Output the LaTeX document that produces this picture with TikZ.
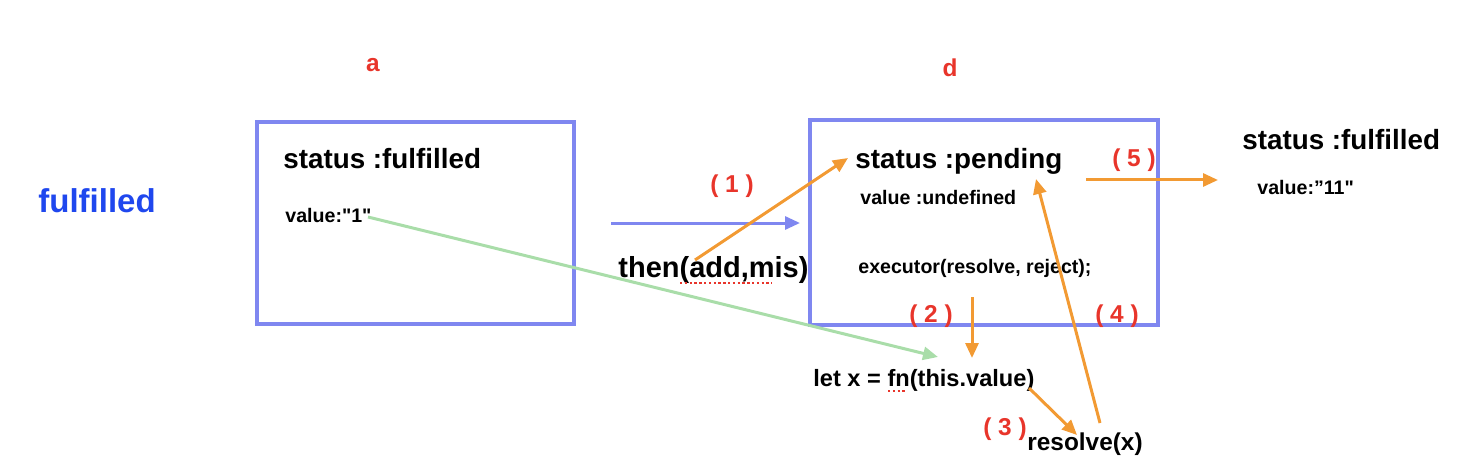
\documentclass[tikz,border=0pt]{standalone}
\usepackage{fontspec}
\setmainfont{Liberation Sans}[Ligatures=TeXOff]
\usetikzlibrary{arrows.meta,positioning,calc}
\definecolor{frame}{HTML}{7F87F0}
\definecolor{flow}{HTML}{F29A33}
\definecolor{pass}{HTML}{A9DDA9}
\definecolor{mark}{HTML}{E8352B}
\definecolor{state}{HTML}{1F47EE}

\begin{document}
\begin{tikzpicture}[x=0.5pt,y=-0.5pt,
 box/.style={draw=frame,line width=2pt,inner sep=0pt},
 txt/.style={inner sep=0pt,anchor=base west,font=\bfseries\fontsize{13.9}{16}\selectfont},
 small/.style={inner sep=0pt,anchor=base west,font=\bfseries\fontsize{9.8}{12}\selectfont},
 code/.style={inner sep=0pt,anchor=base west,font=\bfseries\fontsize{11.8}{14}\selectfont},
 num/.style={inner sep=0pt,anchor=base,text=mark,font=\bfseries\fontsize{12.2}{14}\selectfont},
 arr/.style={-{Triangle[length=7.5pt,width=6.5pt]},draw=flow,line width=1.5pt},
 squig/.style={draw=mark,line width=0.9pt,dash pattern=on 1.2pt off 1.2pt}]
\useasboundingbox (0,0) rectangle (1468,476);
% promise a
\node[box,minimum width=158.5pt,minimum height=101pt] (pa) at (415.5,223) {};
\node[num] (namea) at (373,72) {a};
\node[txt] (sa) at (283,169) {status :fulfilled};
\node[small] (va) at (285,222) {value:"1"};
\node[inner sep=0pt,anchor=base west,text=state,font=\bfseries\fontsize{16.5}{19}\selectfont] (st) at (38,213) {fulfilled};
% promise d
\node[box,minimum width=174pt,minimum height=102.5pt] (pd) at (984,222.5) {};
\node[num] (named) at (950,77) {d};
\node[txt] (sd) at (855,169) {status :pending};
\node[small] (vd) at (860,205) {value :undefined};
\node[small] (ex) at (858,273) {executor(resolve, reject);};
% result
\node[txt] (sr) at (1242,150) {status :fulfilled};
\node[small] (vr) at (1257,194) {value:”11"};
% calls
\node[txt,font=\bfseries\fontsize{14.5}{17}\selectfont] (then) at (618,278) {then(add,mis)};
\node[code] (fn) at (813,386) {let x = fn(this.value)};
\node[txt,font=\bfseries\fontsize{12.2}{14}\selectfont] (res) at (1027,450) {resolve(x)};
\draw[squig] (680,283)--(772,283);\draw[squig] (888,391)--(906,391);
% step numbers
\node[num] (n1) at (732,192) {( 1 )};
\node[num] (n2) at (931,322) {( 2 )};
\node[num] (n3) at (1005,435) {( 3 )};
\node[num] (n4) at (1117,322) {( 4 )};
\node[num] (n5) at (1134,167) {( 5 )};
% connectors
\coordinate (b0) at (611,223);\coordinate (b1) at (800,223);
\coordinate (g0) at (368,217);\coordinate (g1) at (938,357);
\coordinate (o1a) at (695,260);\coordinate (o1b) at (848,158);
\coordinate (o2a) at (972,297);\coordinate (o2b) at (972,358);
\coordinate (o3a) at (1029,388);\coordinate (o3b) at (1077,435);
\coordinate (o4a) at (1100,423);\coordinate (o4b) at (1036,179);
\coordinate (o5a) at (1086,180);\coordinate (o5b) at (1218,180);
\draw[arr,draw=frame] (b0)--(b1);
\draw[arr,draw=pass] (g0)--(g1);
\draw[arr] (o1a)--(o1b);\draw[arr] (o2a)--(o2b);\draw[arr] (o3a)--(o3b);
\draw[arr] (o4a)--(o4b);\draw[arr] (o5a)--(o5b);
\end{tikzpicture}
\end{document}
